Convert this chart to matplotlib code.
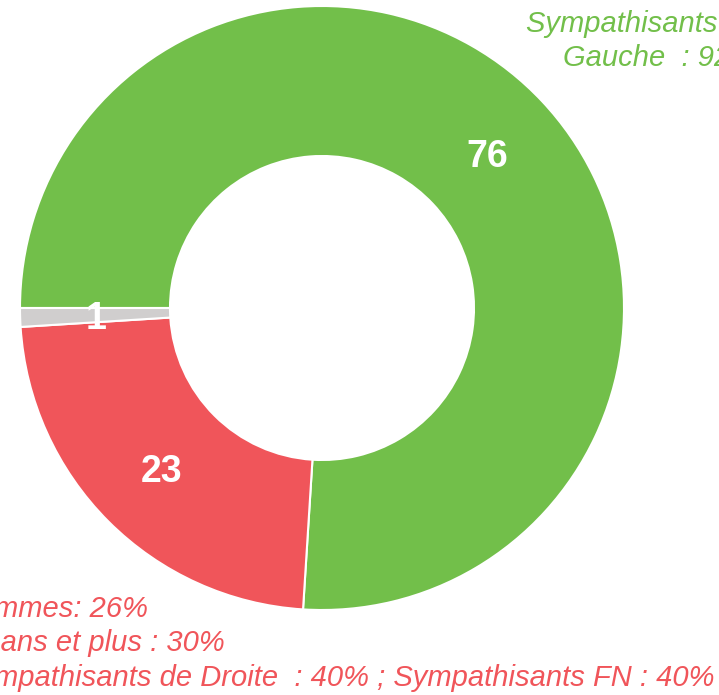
import matplotlib
matplotlib.use("Agg")
import matplotlib.pyplot as plt

values = [76, 23, 1]
colors = ["#72BF4A", "#F0555A", "#D0CECE"]
top_lines = ["Sympathisants de", "Gauche  : 92%"]
bottom_lines = ["Femmes: 26%", "65 ans et plus : 30%",
                "Sympathisants de Droite  : 40% ; Sympathisants FN : 40%"]

W, H = 719, 695
plt.rcParams['font.family'] = ['Liberation Sans', 'DejaVu Sans']

fig = plt.figure(figsize=(W / 100, H / 100), dpi=100)
ax = fig.add_axes([0, 0, 1, 1])

# pixel coords, y measured from top
cx, cy, r = 322, 308, 302
wedges, texts, autotexts = ax.pie(
    values, colors=colors, center=(cx, H - cy), radius=r,
    startangle=180, counterclock=False,
    wedgeprops=dict(width=150, edgecolor='white', linewidth=1.5),
    autopct=lambda p: f"{p:.0f}", pctdistance=0.75,
    textprops=dict(color='white', fontsize=27, fontweight='bold'))
# labels sit a little lower in the original
for t in autotexts:
    x, y = t.get_position()
    t.set_position((x, y - 4))

ax.set_xlim(0, W)
ax.set_ylim(0, H)
ax.set_aspect('auto')
ax.axis('off')

ax.text(526, H - 32, top_lines[0], color=colors[0], fontsize=21,
        style='italic', ha='left', va='baseline')
ax.text(563, H - 66, top_lines[1], color=colors[0], fontsize=21,
        style='italic', ha='left', va='baseline')

for line, base in zip(bottom_lines, [617, 651, 686]):
    ax.text(-40, H - base, line, color=colors[1], fontsize=21,
            style='italic', ha='left', va='baseline')

fig.savefig("out.png", dpi=100)
